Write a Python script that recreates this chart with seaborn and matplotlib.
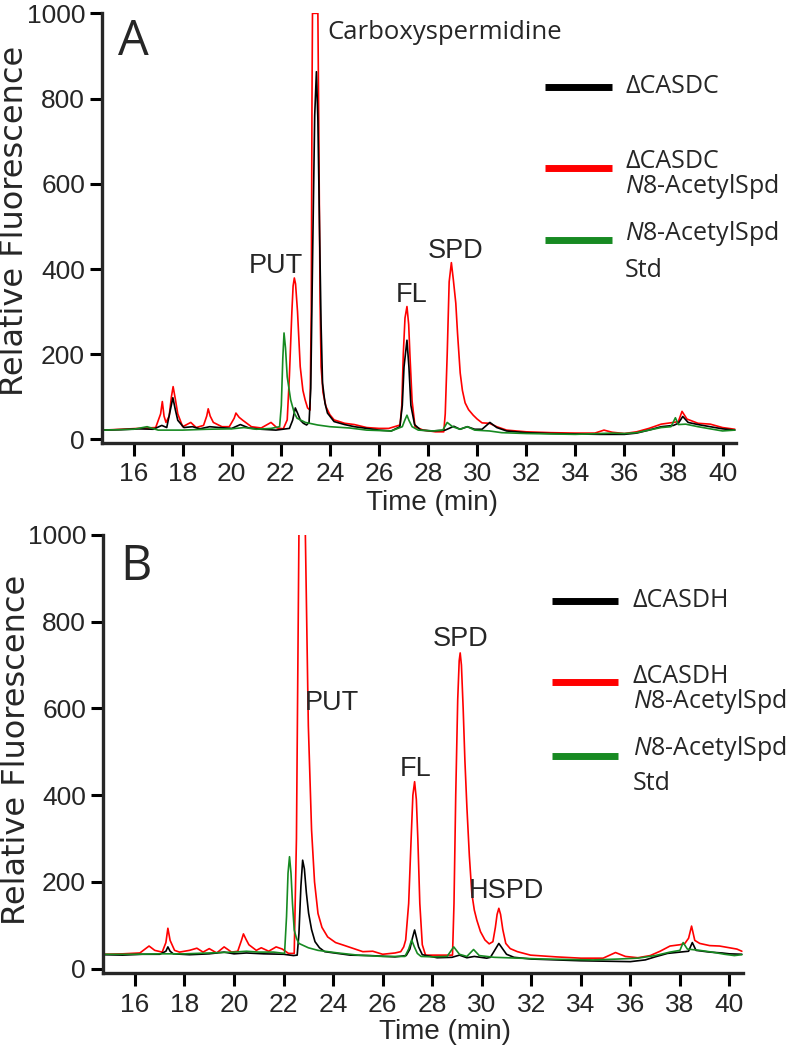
import numpy as np
import pandas as pd
import seaborn as sns
import matplotlib
matplotlib.use("Agg")
import matplotlib.pyplot as plt
from matplotlib import font_manager

# ---------------- data ----------------
# Panel A
time_a_red = [14.75, 15.5, 16.2, 16.9, 17.1, 17.17, 17.24, 17.32, 17.45, 17.54, 17.61, 17.7, 17.8, 18.0,
              18.33, 18.55, 18.85, 18.98, 19.04, 19.12, 19.25, 19.6, 19.9, 20.1, 20.17, 20.3, 20.45,
              20.8, 21.2, 21.6, 21.85, 22.1, 22.26, 22.35, 22.45, 22.5, 22.55, 22.6, 22.68, 22.79,
              22.9, 22.99, 23.09, 23.19, 23.24, 23.27, 23.29, 23.51, 23.55, 23.6, 23.64, 23.72, 23.84,
              24.0, 24.17, 24.6, 25.0, 25.5, 26.0, 26.4, 26.86, 26.93, 26.99, 27.06, 27.14, 27.21,
              27.26, 27.35, 27.47, 27.8, 28.3, 28.64, 28.7, 28.78, 28.86, 28.95, 29.03, 29.13, 29.2,
              29.31, 29.4, 29.51, 29.65, 29.84, 30.0, 30.2, 30.5, 30.8, 31.2, 32.0, 33.0, 34.0, 34.8,
              35.17, 35.5, 36.0, 36.5, 37.0, 37.5, 38.0, 38.2, 38.35, 38.55, 39.0, 39.5, 40.0, 40.5]
fl_a_red = [22, 24, 26, 28, 60, 89, 55, 40, 55, 100, 124, 95, 60, 30,
            40, 28, 33, 55, 72, 55, 40, 30, 30, 50, 62, 52, 45,
            30, 27, 40, 27, 25, 46, 150, 300, 360, 379, 365, 300, 171,
            115, 93, 74, 69, 300, 800, 1000, 1000, 700, 320, 171, 110, 77,
            58, 46, 38, 35, 28, 26, 26, 34, 80, 200, 285, 312, 270,
            200, 90, 30, 22, 18, 18, 60, 200, 370, 415, 375, 320, 250,
            156, 115, 86, 70, 57, 48, 39, 38, 30, 22, 18, 16, 15, 15,
            22, 17, 14, 18, 26, 36, 40, 42, 66, 48, 38, 36, 28, 24]

time_a_black = [14.75, 15.5, 16.2, 16.8, 17.15, 17.35, 17.5, 17.6, 17.7, 17.8, 18.05, 18.4, 18.7, 19.1,
                19.5, 20.0, 20.35, 20.7, 21.2, 21.8, 22.35, 22.48, 22.59, 22.68, 22.8, 22.92, 23.05,
                23.15, 23.22, 23.3, 23.38, 23.45, 23.51, 23.58, 23.64, 23.7, 23.8, 23.9, 24.17, 24.6,
                25.0, 25.5, 26.0, 26.5, 26.85, 26.95, 27.02, 27.14, 27.22, 27.3, 27.45, 27.7, 28.2,
                28.7, 29.05, 29.3, 29.6, 29.9, 30.2, 30.52, 30.8, 31.2, 32.0, 33.0, 34.0, 35.0, 36.0,
                36.5, 37.0, 37.5, 38.0, 38.2, 38.38, 38.6, 39.0, 39.5, 40.0, 40.5]
fl_a_black = [22, 23, 25, 24, 33, 28, 70, 98, 70, 45, 28, 30, 25, 30,
              28, 26, 35, 27, 24, 22, 26, 45, 74, 62, 45, 38, 34,
              40, 120, 450, 760, 863, 750, 484, 270, 132, 85, 62, 42, 35,
              30, 26, 22, 20, 30, 80, 170, 233, 170, 80, 35, 22, 20,
              22, 31, 24, 30, 24, 24, 40, 28, 20, 16, 14, 13, 12, 12,
              15, 22, 30, 33, 38, 54, 40, 35, 30, 25, 22]

time_a_green = [14.75, 16.0, 16.55, 17.0, 18.0, 19.0, 20.0, 20.5, 21.0, 21.6, 21.95, 22.02, 22.08, 22.13,
                22.19, 22.26, 22.4, 22.55, 22.66, 23.0, 23.5, 24.0, 24.8, 25.5, 26.5, 26.95, 27.05,
                27.14, 27.22, 27.35, 27.6, 28.2, 28.6, 28.78, 29.0, 29.3, 29.6, 29.9, 30.5, 31.0, 32.0,
                33.0, 34.0, 35.0, 35.5, 36.0, 36.5, 37.0, 37.5, 37.9, 38.08, 38.2, 38.5, 39.0, 39.5,
                40.0, 40.5]
fl_a_green = [22, 24, 30, 22, 22, 24, 25, 28, 24, 26, 30, 80, 190, 250,
              215, 147, 93, 62, 50, 40, 34, 30, 27, 22, 20, 30, 45,
              57, 45, 30, 22, 20, 22, 40, 30, 24, 30, 22, 20, 16, 14,
              13, 12, 14, 15, 14, 16, 22, 28, 30, 51, 35, 36, 30, 25,
              20, 22]

# Panel B
time_b_red = [14.75, 15.5, 16.2, 16.57, 16.8, 17.1, 17.25, 17.33, 17.42, 17.6, 17.8, 18.2, 18.5, 18.75,
              19.0, 19.3, 19.6, 19.9, 20.15, 20.3, 20.38, 20.48, 20.6, 20.9, 21.1, 21.4, 21.7, 21.95,
              22.2, 22.43, 22.52, 22.62, 22.75, 22.88, 23.0, 23.13, 23.25, 23.39, 23.55, 23.78, 24.1,
              24.42, 25.2, 25.6, 26.0, 26.5, 26.73, 26.85, 26.93, 27.05, 27.15, 27.22, 27.29, 27.36,
              27.42, 27.5, 27.6, 27.73, 28.2, 28.6, 28.82, 28.88, 28.95, 29.03, 29.09, 29.13, 29.18,
              29.25, 29.32, 29.4, 29.5, 29.6, 29.7, 29.8, 29.95, 30.13, 30.3, 30.45, 30.55, 30.62,
              30.69, 30.76, 30.85, 30.97, 31.15, 31.44, 31.97, 33.0, 34.0, 34.9, 35.4, 35.8, 36.3,
              36.8, 37.2, 37.6, 38.0, 38.2, 38.35, 38.47, 38.6, 38.8, 39.2, 39.6, 40.0, 40.3, 40.5]
fl_b_red = [33, 34, 36, 52, 42, 38, 60, 93, 65, 42, 38, 42, 47, 38,
            46, 36, 50, 38, 40, 65, 80, 68, 55, 42, 48, 40, 50, 45,
            35, 35, 300, 1000, 1450, 1000, 560, 320, 200, 127, 95, 73, 60,
            54, 39, 40, 33, 36, 39, 50, 66, 150, 300, 400, 431, 390,
            300, 150, 55, 31, 31, 31, 31, 150, 400, 620, 710, 728, 700,
            600, 480, 373, 260, 173, 135, 112, 85, 66, 57, 62, 95, 125,
            139, 125, 90, 58, 46, 39, 31, 27, 24, 24, 37, 28, 25,
            30, 40, 52, 55, 58, 70, 98, 65, 58, 53, 52, 48, 45, 40]

time_b_black = [14.75, 15.5, 16.3, 17.0, 17.25, 17.33, 17.42, 17.55, 18.2, 19.0, 19.6, 20.0, 20.5, 21.2,
                22.0, 22.4, 22.55, 22.62, 22.7, 22.77, 22.84, 22.92, 23.01, 23.13, 23.27, 23.45, 23.66,
                24.69, 25.5, 26.5, 26.95, 27.1, 27.2, 27.29, 27.37, 27.45, 27.6, 28.2, 28.8, 29.1,
                29.4, 29.7, 30.2, 30.35, 30.5, 30.69, 30.85, 31.0, 31.3, 32.0, 33.0, 34.0, 35.0, 36.0,
                36.6, 37.0, 37.5, 38.0, 38.35, 38.5, 38.65, 39.2, 39.7, 40.0, 40.5]
fl_b_black = [32, 31, 33, 33, 40, 50, 40, 34, 32, 34, 38, 34, 36, 34,
              33, 30, 31, 80, 190, 250, 230, 175, 128, 90, 62, 48, 39,
              31, 30, 27, 30, 45, 70, 89, 70, 50, 32, 25, 26, 31,
              25, 28, 24, 26, 40, 58, 45, 33, 26, 22, 20, 18, 17, 16,
              20, 27, 35, 38, 40, 60, 42, 38, 36, 34, 33]

time_b_green = [14.75, 16.0, 17.0, 18.0, 19.0, 20.0, 20.5, 21.0, 21.6, 22.04, 22.12, 22.18, 22.24, 22.3,
                22.36, 22.43, 22.52, 22.62, 23.0, 23.39, 24.2, 25.0, 26.0, 26.9, 27.05, 27.17, 27.28,
                27.4, 27.55, 28.0, 28.6, 28.87, 29.1, 29.4, 29.67, 29.9, 30.5, 31.5, 32.5, 33.5, 34.5,
                35.5, 36.3, 37.0, 37.6, 38.0, 38.13, 38.3, 38.8, 39.3, 39.8, 40.2, 40.5]
fl_b_green = [33, 33, 34, 34, 36, 38, 40, 38, 38, 35, 120, 220, 258, 220,
              150, 89, 70, 58, 48, 42, 36, 31, 28, 28, 45, 66, 50,
              35, 28, 27, 28, 50, 33, 28, 44, 30, 26, 24, 22, 21, 20,
              22, 24, 30, 38, 42, 60, 45, 42, 38, 33, 30, 32]

x_ticks = [16, 18, 20, 22, 24, 26, 28, 30, 32, 34, 36, 38, 40]
y_ticks = [0, 200, 400, 600, 800, 1000]

legend_a = ["\u0394CASDC", "\u0394CASDC\n$\\it{N}$8-AcetylSpd", "$\\it{N}$8-AcetylSpd\nStd"]
legend_b = ["\u0394CASDH", "\u0394CASDH\n$\\it{N}$8-AcetylSpd", "$\\it{N}$8-AcetylSpd\nStd"]

peaks_a = ["PUT", "FL", "SPD"]
peaks_a_t = [21.81, 27.34, 29.11]
peaks_a_y = [390, 323, 426]
peaks_b = ["PUT", "FL", "SPD", "HSPD"]
peaks_b_t = [23.97, 27.34, 29.13, 31.0]
peaks_b_y = [597, 443, 743, 162]

# ---------------- style ----------------
sns.set_style("ticks")
names = {f.name for f in font_manager.fontManager.ttflist}
HAS_NARROW = "Liberation Sans Narrow" in names
NARROW = "Liberation Sans Narrow" if HAS_NARROW else "Liberation Sans"
plt.rcParams["font.family"] = ["Open Sans", "DejaVu Sans"]
plt.rcParams["mathtext.fontset"] = "custom"
plt.rcParams["mathtext.rm"] = "Open Sans"
plt.rcParams["mathtext.it"] = "Open Sans:italic"

RED, BLACK, GREEN = "#ff0000", "#000000", "#178a22"
order = ["red", "black", "green"]
palette = {"red": RED, "black": BLACK, "green": GREEN}

tick_fs = 21 if HAS_NARROW else 19
ann_fs = 21 if HAS_NARROW else 19.5
xlab_fs = 23 if HAS_NARROW else 20


def panel_df(series):
    frames = [pd.DataFrame({"Time (min)": t, "Relative Fluorescence": v, "trace": name})
              for name, t, v in series]
    return pd.concat(frames, ignore_index=True)


df_a = panel_df([("red", time_a_red, fl_a_red), ("black", time_a_black, fl_a_black),
                 ("green", time_a_green, fl_a_green)])
df_b = panel_df([("red", time_b_red, fl_b_red), ("black", time_b_black, fl_b_black),
                 ("green", time_b_green, fl_b_green)])

fig = plt.figure(figsize=(7.86, 10.5), dpi=100)
ax_a = fig.add_axes([0.1294, 0.5784, 0.8070, 0.4089])
ax_b = fig.add_axes([0.1307, 0.0730, 0.8147, 0.4175])


def style_axis(ax, df, ybottom, label_coords_x, label_coords_y):
    sns.lineplot(data=df, x="Time (min)", y="Relative Fluorescence", hue="trace", hue_order=order,
                 palette=palette, estimator=None, sort=False, legend=False, lw=1.2, ax=ax)
    ax.set_xlim(14.7, 40.55)
    ax.set_ylim(ybottom, 1000)
    ax.set_xticks(x_ticks)
    ax.set_yticks(y_ticks)
    ax.set_xticklabels([str(v) for v in x_ticks], family=NARROW, fontsize=tick_fs)
    ax.set_yticklabels([str(v) for v in y_ticks], family=NARROW, fontsize=tick_fs)
    for s in ["top", "right"]:
        ax.spines[s].set_visible(False)
    for s in ["left", "bottom"]:
        ax.spines[s].set_linewidth(2.4)
    ax.tick_params(axis="both", direction="out", length=9, width=2.2, color="black")
    ax.tick_params(axis="x", pad=5)
    ax.tick_params(axis="y", pad=3)
    ax.set_xlabel("Time (min)", family=NARROW, fontsize=xlab_fs, va="baseline")
    ax.set_ylabel("Relative Fluorescence", family="DejaVu Sans", fontsize=23, va="baseline")
    ax.xaxis.set_label_coords(label_coords_x[0], label_coords_x[1])
    ax.yaxis.set_label_coords(label_coords_y[0], label_coords_y[1])


style_axis(ax_a, df_a, -7.5, (0.5215, -0.157), (-0.1236, 0.516))
style_axis(ax_b, df_b, -11, (0.535, -0.150), (-0.122, 0.509))

# panel letters
ax_a.text(0.0257, 0.903, "A", transform=ax_a.transAxes, fontsize=35, va="baseline", ha="left")
ax_b.text(0.027, 0.897, "B", transform=ax_b.transAxes, fontsize=35, va="baseline", ha="left")

# peak annotations
for lab, t, y in zip(peaks_a, peaks_a_t, peaks_a_y):
    ax_a.text(t, y, lab, family=NARROW, fontsize=ann_fs, ha="center", va="baseline")
for lab, t, y in zip(peaks_b, peaks_b_t, peaks_b_y):
    ax_b.text(t, y, lab, family=NARROW, fontsize=ann_fs, ha="center", va="baseline")
ax_a.text(23.91, 939, "Carboxyspermidine", fontsize=18.5, ha="left", va="baseline")


# legends (keys + labels in axes fraction)
def draw_legend(ax, labels, line_x, line_y, text_x, text_y):
    for lab, col, ly, ty in zip(labels, [BLACK, RED, GREEN], line_y, text_y):
        ax.plot(line_x, [ly, ly], transform=ax.transAxes, color=col, lw=5,
                solid_capstyle="butt", clip_on=False)
        for line, yy in zip(lab.split("\n"), ty):
            ax.text(text_x, yy, line, transform=ax.transAxes, fontsize=18, ha="left", va="baseline")


draw_legend(ax_a, legend_a, [0.699, 0.804], [0.829, 0.640, 0.472], 0.825,
            [[0.814], [0.639, 0.581], [0.471, 0.387]])
draw_legend(ax_b, legend_b, [0.701, 0.805], [0.849, 0.664, 0.496], 0.828,
            [[0.835], [0.662, 0.605], [0.498, 0.418]])

fig.savefig("out.png", dpi=100)
